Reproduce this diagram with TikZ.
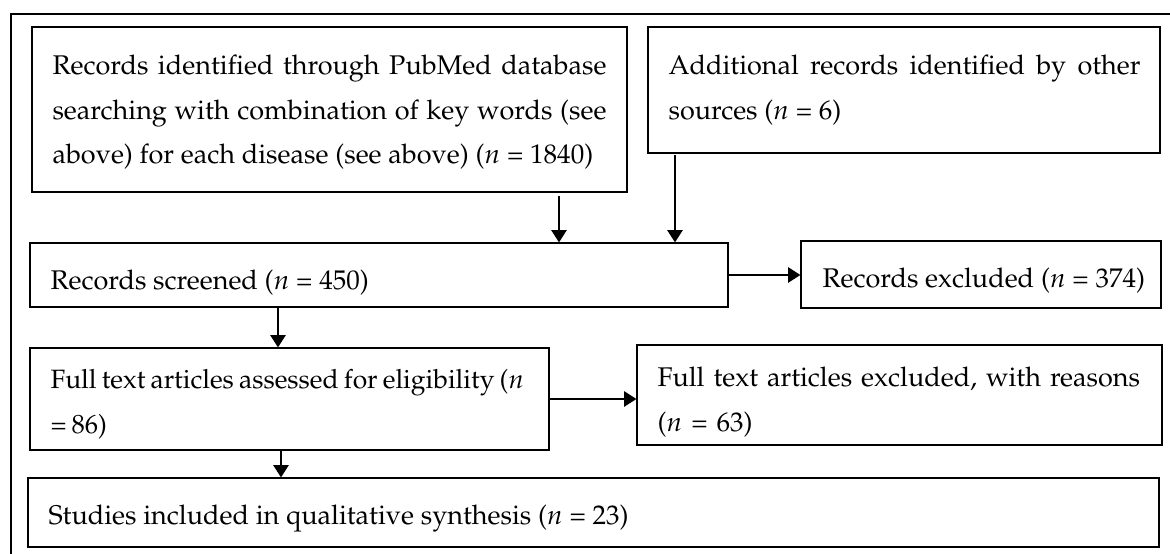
\documentclass[tikz,border=0pt]{standalone}
\usepackage[T1]{fontenc}
\usepackage{mathpazo}
\usetikzlibrary{arrows.meta}
\usetikzlibrary{fit}
\tikzset{box/.style={draw,line width=0.4pt,inner sep=0pt},
         txt/.style={inner sep=0pt,anchor=base west,font=\fontsize{10}{16.4}\selectfont},
         just/.style={txt,align=justify},
         arr/.style={line width=0.95pt,-{Triangle[length=4.6pt,width=5.6pt]}},
         frame/.style={draw,line width=0.9pt},
         }
\begin{document}
\begin{tikzpicture}[x=0.37pt,y=-0.37pt]
		\clip (0,0) rectangle (1170,554);
		\draw[frame] (11,14) rectangle (1190,575);
		% boxes
		\node[box,fit={(32,27)(627,192)}] (pubmed) {};
		\node[box,fit={(648,27)(1160,153)}] (other) {};
		\node[box,fit={(30,243)(728,307)}] (screened) {};
		\node[box,fit={(801,241)(1161,308)}] (excluded) {};
		\node[box,fit={(30,348)(549,450)}] (assessed) {};
		\node[box,fit={(637,345)(1162,445)}] (fullex) {};
		\node[box,fit={(28,478)(1159,547)}] (included) {};
		% texts
		\node[just,text width=205pt] (pubmed-t) at (52,75) {Records identified through PubMed database\linebreak searching with combination of key words (see\linebreak above) for each disease (see above) ($n$ = 1840)};
		\node[just,text width=174.6pt] (other-t) at (668,75) {Additional records identified by other\linebreak sources ($n$ = 6)};
		\node[txt] (screened-t) at (50,290) {Records screened ($n$ = 450)};
		\node[txt] (excluded-t) at (822,288) {Records excluded ($n$ = 374)};
		\node[txt,font=\fontsize{9.8}{16.4}\selectfont,align=left,text width=220pt] (assessed-t) at (50,389) {\spaceskip=1.9pt plus 1pt minus 0.5pt Full text articles assessed for eligibility ($n$\\= 86)};
		\node[txt,align=left,text width=220pt] (fullex-t) at (657,387) {Full text articles excluded, with reasons\\($n$ = 63)};
		\node[txt] (included-t) at (48,525) {Studies included in qualitative synthesis ($n$ = 23)};
		% arrows
		\coordinate (c1) at (559,0);
		\coordinate (c2) at (675,0);
		\coordinate (c3) at (278,0);
		\coordinate (c4) at (281,0);
		\draw[arr,shorten <=1.4pt] (pubmed.south -| c1) -- (screened.north -| c1);
		\draw[arr,shorten <=0.7pt] (other.south -| c2) -- (screened.north -| c2);
		\draw[arr] (screened.east) -- (screened.east -| excluded.west);
		\draw[arr] (screened.south -| c3) -- (assessed.north -| c3);
		\draw[arr] (assessed.east) -- (assessed.east -| fullex.west);
		\draw[arr] (assessed.south -| c4) -- (included.north -| c4);
\end{tikzpicture}
\end{document}
